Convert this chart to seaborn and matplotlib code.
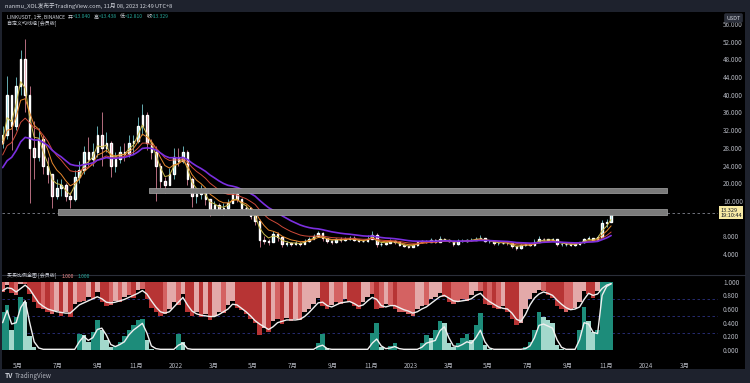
import numpy as np
import pandas as pd
import matplotlib
matplotlib.use("Agg")
import matplotlib.pyplot as plt
from matplotlib.patches import Rectangle
from matplotlib.ticker import FormatStrFormatter
import seaborn as sns

sns.set_theme(style="dark")
plt.rcParams["font.family"] = ["Noto Sans CJK SC", "DejaVu Sans"]

# ---- data (weekly) ----
start = "2021-04-07"
close = [31, 40, 33, 42, 48, 40, 28, 26, 30, 24,
         22, 17, 19, 19.5, 17, 16.5, 21.5, 23, 27, 25.5,
         27, 31, 28, 29, 24, 25.5, 27, 26.5, 29, 29.5,
         33, 35.5, 29, 27, 24, 20.5, 19.5, 22, 26, 25,
         27, 21, 17, 17.5, 18, 16.5, 14, 15, 14, 14.5,
         15.5, 17.5, 16.5, 14.5, 14.4, 12.5, 11.5, 7.2, 7.0, 6.8,
         8.5, 7.8, 6.2, 6.5, 6.2, 6.5, 6.2, 7.0, 7.5, 8.0,
         8.8, 7.6, 7.0, 6.8, 7.3, 7.1, 7.4, 7.6, 7.2, 6.9,
         6.9, 7.5, 8.4, 6.2, 6.2, 6.5, 7.0, 6.6, 6.1, 5.7,
         5.6, 6.0, 6.6, 6.9, 6.8, 7.2, 6.7, 7.4, 7.2, 7.0,
         6.3, 6.9, 7.0, 7.1, 7.2, 7.5, 7.6, 6.9, 6.9, 6.4,
         6.4, 6.5, 6.4, 5.7, 5.3, 6.0, 6.2, 6.0, 6.8, 7.4,
         7.3, 7.2, 7.3, 6.2, 6.2, 6.2, 6.0, 6.2, 6.6, 7.4,
         7.6, 7.1, 7.9, 11.0, 11.3, 13.329]
high = [33, 44.3, 40, 44, 50, 52.6, 42, 34, 32.5, 31,
        26, 22, 21, 21, 20, 18, 23, 25, 28.5, 30.5,
        29, 33, 36.2, 31.5, 29.5, 27, 28.5, 29, 31, 31,
        35, 38, 36, 30, 28.5, 24.5, 21.5, 23.5, 28, 28,
        28.3, 27.5, 21.5, 19, 19.5, 19, 16.5, 16, 15.5, 15.5,
        16.5, 18.3, 17.8, 16.7, 15, 14.6, 13, 11.8, 8, 7.4,
        9.1, 9.0, 8.0, 6.9, 6.8, 6.9, 6.6, 7.5, 7.8, 8.5,
        9.3, 8.9, 7.6, 7.2, 7.7, 7.9, 7.8, 8.0, 8.0, 7.4,
        7.2, 8.2, 9.2, 8.8, 6.6, 6.8, 7.3, 7.1, 6.8, 6.2,
        5.9, 6.3, 6.8, 7.2, 7.1, 7.6, 7.3, 8.0, 7.6, 7.3,
        7.0, 7.3, 7.5, 7.4, 7.6, 7.9, 8.4, 7.7, 7.2, 7.0,
        6.7, 6.8, 6.7, 6.5, 5.8, 6.2, 6.5, 6.3, 7.4, 8.0,
        7.7, 7.5, 7.6, 7.4, 6.4, 6.6, 6.3, 6.4, 6.8, 7.6,
        8.0, 7.7, 8.3, 11.6, 12.0, 13.438]
low = [28, 30, 27.5, 32, 40, 36, 15.5, 21, 25, 22,
       20, 14.5, 16.5, 17, 16, 14.4, 16, 20, 22, 24,
       24, 26, 24, 27, 21.4, 22.5, 24.5, 25, 26, 26.5,
       29, 31, 27.5, 25.5, 16, 19, 17.8, 19.5, 21, 24,
       24.5, 19.5, 14.6, 15.5, 16.5, 15, 12.5, 13.3, 13, 12.8,
       14, 15.5, 15.8, 13.5, 13.5, 11.8, 10.5, 5.6, 6.2, 6.0,
       6.6, 7.0, 5.5, 5.9, 5.8, 6.0, 5.9, 6.2, 6.8, 7.3,
       7.9, 7.0, 6.5, 6.2, 6.5, 6.8, 6.9, 7.2, 7.0, 6.6,
       6.6, 6.8, 7.4, 5.6, 5.8, 6.0, 6.4, 6.3, 5.8, 5.5,
       5.4, 5.5, 5.9, 6.4, 6.5, 6.7, 6.5, 6.6, 7.0, 6.8,
       5.9, 6.1, 6.6, 6.8, 7.0, 7.1, 7.3, 6.6, 6.5, 6.1,
       6.1, 6.2, 6.1, 5.3, 5.0, 5.2, 5.8, 5.8, 5.9, 6.7,
       7.0, 6.9, 7.0, 5.9, 5.9, 5.9, 5.9, 5.9, 6.1, 6.5,
       7.3, 6.9, 7.0, 7.8, 10.2, 11.2]
# weekly closes Dec 2020 - Mar 2021, only used to warm up the moving averages
warmup_close = [12.5, 12.0, 13.0, 11.5, 11.5, 14.5, 16.0, 20.5, 21.0, 25.0,
                30.0, 33.0, 27.0, 28.0, 30.0, 29.0, 26.0, 29.0]
ema_spans = [3, 6, 12, 20]

# support / resistance boxes
zone_low = [17.9, 12.77]
zone_high = [18.85, 14.17]
zone_start = ["2021-11-20", "2021-07-02"]
zone_end = ["2024-02-03", "2024-02-03"]
last_price = 13.329
price_ticks = [4, 8, 16, 20, 24, 28, 32, 36, 40, 44, 48, 52, 56]

# lower indicator: red edge (from 1.0 down), white lines, green bars (from 0 up)
sell_edge = [0.85, 0.95, 0.84, 0.80, 0.96, 0.97, 0.82, 0.70, 0.62, 0.60,
             0.55, 0.52, 0.57, 0.50, 0.55, 0.48, 0.68, 0.70, 0.72, 0.78,
             0.74, 0.85, 0.70, 0.64, 0.66, 0.72, 0.70, 0.78, 0.80, 0.76,
             0.88, 0.90, 0.74, 0.62, 0.55, 0.50, 0.52, 0.60, 0.70, 0.66,
             0.82, 0.56, 0.50, 0.55, 0.48, 0.52, 0.44, 0.50, 0.56, 0.54,
             0.66, 0.72, 0.62, 0.58, 0.52, 0.45, 0.40, 0.22, 0.32, 0.26,
             0.42, 0.45, 0.38, 0.47, 0.42, 0.46, 0.44, 0.55, 0.60, 0.68,
             0.76, 0.64, 0.60, 0.66, 0.70, 0.68, 0.74, 0.70, 0.64, 0.60,
             0.70, 0.78, 0.82, 0.60, 0.62, 0.68, 0.66, 0.60, 0.56, 0.55,
             0.52, 0.50, 0.60, 0.64, 0.66, 0.74, 0.78, 0.84, 0.78, 0.70,
             0.68, 0.72, 0.74, 0.72, 0.80, 0.86, 0.86, 0.68, 0.66, 0.62,
             0.60, 0.64, 0.55, 0.46, 0.36, 0.40, 0.60, 0.74, 0.84, 0.88,
             0.86, 0.80, 0.76, 0.64, 0.60, 0.56, 0.58, 0.62, 0.70, 0.86,
             0.82, 0.76, 0.86, 1.0, 1.0, 1.0]
sell_line = [0.87, 0.91, 0.90, 0.85, 0.90, 0.95, 0.89, 0.79, 0.69, 0.64,
             0.60, 0.58, 0.56, 0.55, 0.54, 0.54, 0.60, 0.66, 0.69, 0.72,
             0.75, 0.78, 0.75, 0.70, 0.69, 0.70, 0.72, 0.74, 0.77, 0.80,
             0.83, 0.87, 0.82, 0.72, 0.63, 0.56, 0.54, 0.56, 0.63, 0.70,
             0.77, 0.66, 0.57, 0.53, 0.51, 0.50, 0.49, 0.49, 0.52, 0.56,
             0.60, 0.67, 0.66, 0.61, 0.56, 0.50, 0.43, 0.38, 0.34, 0.30,
             0.34, 0.40, 0.42, 0.44, 0.44, 0.44, 0.45, 0.49, 0.55, 0.62,
             0.69, 0.70, 0.65, 0.63, 0.66, 0.69, 0.70, 0.71, 0.68, 0.64,
             0.66, 0.72, 0.77, 0.74, 0.65, 0.63, 0.65, 0.65, 0.62, 0.59,
             0.57, 0.54, 0.56, 0.60, 0.63, 0.68, 0.73, 0.78, 0.80, 0.76,
             0.72, 0.71, 0.72, 0.73, 0.75, 0.80, 0.83, 0.76, 0.71, 0.67,
             0.63, 0.61, 0.60, 0.54, 0.45, 0.42, 0.52, 0.66, 0.76, 0.82,
             0.85, 0.83, 0.80, 0.73, 0.67, 0.62, 0.59, 0.60, 0.63, 0.74,
             0.83, 0.80, 0.82, 0.90, 0.95, 0.97]
buy_bar = [0.55, 0.66, 0.30, 0.48, 0.78, 0.70, 0.20, 0.05, 0, 0,
           0, 0, 0, 0, 0, 0, 0, 0.24, 0.22, 0.12,
           0.26, 0.44, 0.30, 0.15, 0.04, 0.06, 0.12, 0.20, 0.30, 0.36,
           0.44, 0.46, 0.15, 0.02, 0, 0, 0, 0, 0, 0.24,
           0.12, 0, 0, 0, 0, 0, 0, 0, 0, 0,
           0, 0, 0, 0, 0, 0, 0, 0, 0, 0,
           0, 0, 0, 0, 0, 0, 0, 0, 0, 0,
           0.10, 0.24, 0.03, 0, 0, 0, 0, 0, 0, 0,
           0, 0, 0.25, 0.39, 0.05, 0, 0.06, 0.10, 0, 0,
           0, 0, 0, 0.10, 0.22, 0.18, 0.30, 0.42, 0.40, 0.10,
           0.04, 0.10, 0.18, 0.24, 0.14, 0.36, 0.54, 0.08, 0.02, 0,
           0, 0, 0, 0, 0, 0, 0.04, 0.12, 0.30, 0.56,
           0.48, 0.44, 0.40, 0.08, 0.02, 0, 0, 0, 0.30, 0.63,
           0.42, 0.26, 0.30, 1.0, 1.0, 1.0]
buy_line = [0.40, 0.58, 0.38, 0.40, 0.62, 0.72, 0.40, 0.12, 0.03, 0.01,
            0.01, 0.01, 0.01, 0.01, 0.01, 0.01, 0.01, 0.12, 0.20, 0.14,
            0.18, 0.30, 0.32, 0.22, 0.08, 0.05, 0.08, 0.12, 0.22, 0.29,
            0.34, 0.39, 0.25, 0.06, 0.02, 0.01, 0.01, 0.01, 0.01, 0.07,
            0.10, 0.02, 0.01, 0.01, 0.01, 0.01, 0.01, 0.01, 0.01, 0.01,
            0.01, 0.01, 0.01, 0.01, 0.01, 0.01, 0.01, 0.01, 0.01, 0.01,
            0.01, 0.01, 0.01, 0.01, 0.01, 0.01, 0.01, 0.01, 0.01, 0.01,
            0.05, 0.07, 0.02, 0.01, 0.01, 0.01, 0.01, 0.01, 0.01, 0.01,
            0.01, 0.01, 0.10, 0.16, 0.06, 0.02, 0.03, 0.05, 0.02, 0.01,
            0.01, 0.01, 0.01, 0.04, 0.10, 0.12, 0.14, 0.28, 0.34, 0.18,
            0.06, 0.05, 0.08, 0.12, 0.10, 0.18, 0.29, 0.12, 0.03, 0.01,
            0.01, 0.01, 0.01, 0.01, 0.01, 0.01, 0.02, 0.06, 0.18, 0.36,
            0.38, 0.35, 0.32, 0.15, 0.04, 0.01, 0.01, 0.01, 0.15, 0.40,
            0.38, 0.26, 0.24, 0.80, 0.93, 0.97]

tick_dates = ["2021-05-01", "2021-07-01", "2021-09-01", "2021-11-01", "2022-01-01",
              "2022-03-01", "2022-05-01", "2022-07-01", "2022-09-01", "2022-11-01",
              "2023-01-01", "2023-03-01", "2023-05-01", "2023-07-01", "2023-09-01",
              "2023-11-01", "2024-01-01", "2024-03-01"]
tick_labels = ["5月", "7月", "9月", "11月", "2022", "3月", "5月", "7月", "9月", "11月",
               "2023", "3月", "5月", "7月", "9月", "11月", "2024", "3月"]

# ---- prep ----
dates = pd.date_range(start, periods=len(close), freq="7D")
warm_dates = pd.date_range(end=dates[0] - pd.Timedelta(days=7), periods=len(warmup_close), freq="7D")
all_close = pd.Series(warmup_close + close, index=warm_dates.append(dates))
emas = [all_close.ewm(span=s, adjust=False).mean().loc[dates].values for s in ema_spans]
ema_colors = ["#cdbd4c", "#e8892e", "#cf4a3a", "#7b2fe0"]
ema_widths = [0.7, 0.7, 0.7, 1.2]

c = np.array(close)
o = np.array([warmup_close[-1]] + close[:-1])
up = c >= o
candle_colors = np.where(up, "#7fd8de", "#e58aa0")

W, H = 750, 383
BG = "#1e222d"
TXT = "#b2b5be"


def box(x0, y0, x1, y1):
    return [x0 / W, 1 - y1 / H, (x1 - x0) / W, (y1 - y0) / H]


fig = plt.figure(figsize=(7.5, 3.83), dpi=100, facecolor=BG)
fig.add_artist(Rectangle((2 / W, 1 - 369 / H), 743 / W, 357 / H, transform=fig.transFigure,
                         facecolor="black", edgecolor="none", zorder=0))

ax = fig.add_axes(box(2, 12, 718, 274), facecolor="black")
ax2 = fig.add_axes(box(2, 275, 718, 356), facecolor="black", sharex=ax)

# candles
ax.vlines(dates, low, high, colors=candle_colors, lw=0.55, zorder=2)
ax.bar(dates, np.abs(c - o), bottom=np.minimum(o, c), width=2.4, color=candle_colors, zorder=2)

for e, col, lw in zip(emas, ema_colors, ema_widths):
    sns.lineplot(x=dates, y=e, ax=ax, color=col, lw=lw, zorder=3)

ax.axhline(last_price, color="#80848f", lw=0.6, ls=(0, (3, 3)), zorder=1)
for lo, hi, s, e in zip(zone_low, zone_high, zone_start, zone_end):
    ax.fill_between(pd.to_datetime([s, e]), lo, hi, facecolor="#7a7a7a", edgecolor="#a8a8a8",
                    lw=0.5, zorder=4)

ax.set_ylim(-0.52, 58.7)
ax.set_xlim(pd.Timestamp("2021-04-06"), pd.Timestamp("2024-04-22"))
ax.yaxis.tick_right()
ax.set_yticks(price_ticks)
ax.yaxis.set_major_formatter(FormatStrFormatter("%.3f"))
ax.tick_params(axis="y", length=0, pad=3.6, labelsize=4.6, labelcolor=TXT)
ax.tick_params(axis="x", length=0, labelbottom=False)
ax.text(1.003, last_price, "13.329\n19:10:44", transform=ax.get_yaxis_transform(), ha="left",
        va="center", fontsize=4.0, color="#131722", linespacing=1.1,
        bbox=dict(boxstyle="square,pad=0.25", facecolor="#f7eaa4", edgecolor="none"))

# lower indicator
edge = np.array(sell_edge)
d_edge = np.diff(np.concatenate([[edge[0]], edge]))
red_cols = np.where(d_edge < -0.04, "#b73434", np.where(d_edge > 0.04, "#e3a9a9", "#d46262"))
ax2.bar(dates, 1 - edge, bottom=edge, width=7, color=red_cols, lw=0, zorder=2)
bb = np.array(buy_bar)
d_bb = np.diff(np.concatenate([[bb[0]], bb]))
green_cols = np.where(d_bb >= 0, "#1d8c7a", "#a3d8cc")
ax2.bar(dates, bb, width=7, color=green_cols, lw=0, zorder=3)
sns.lineplot(x=dates, y=sell_line, ax=ax2, color="#f0f0f0", lw=1.0, zorder=4)
sns.lineplot(x=dates, y=buy_line, ax=ax2, color="#f0f0f0", lw=1.0, zorder=4)
for lev in [0.75, 0.5, 0.25]:
    ax2.axhline(lev, color="#2c3280", lw=0.6, ls=(0, (3, 3)), zorder=1)

ax2.set_ylim(-0.088, 1.098)
ax2.yaxis.tick_right()
ax2.set_yticks([0, 0.2, 0.4, 0.6, 0.8, 1.0])
ax2.yaxis.set_major_formatter(FormatStrFormatter("%.3f"))
ax2.tick_params(axis="y", length=0, pad=3.6, labelsize=4.6, labelcolor=TXT)
ax2.set_xticks(pd.to_datetime(tick_dates))
ax2.set_xticklabels(tick_labels)
ax2.tick_params(axis="x", length=0, pad=4, labelsize=4.6, labelcolor=TXT)

for a in (ax, ax2):
    a.grid(False)
    a.set_xlabel("")
    a.set_ylabel("")
    for sp in a.spines.values():
        sp.set_visible(False)

fig.add_artist(plt.Line2D([2 / W, 745 / W], [1 - 274.5 / H] * 2, transform=fig.transFigure,
                          color="#2a2e39", lw=0.8))

# texts, chained left to right
renderer = fig.canvas.get_renderer()


def chain(x, y, parts, size):
    for s, col, gap in parts:
        t = fig.text(x / W, 1 - y / H, s, fontsize=size, color=col, va="center")
        x = t.get_window_extent(renderer).x1 + gap


LIGHT = "#d1d4dc"
TEAL = "#26a69a"
fig.text(5 / W, 1 - 6 / H, "nanmu_XOL发布于TradingView.com, 11月 08, 2023 12:49 UTC+8",
         fontsize=4.1, color=LIGHT, va="center")
chain(7, 17, [("LINKUSDT, 1天, BINANCE", LIGHT, 3),
              ("开", LIGHT, 0), ("=13.040", TEAL, 3),
              ("高", LIGHT, 0), ("=13.438", TEAL, 3),
              ("低", LIGHT, 0), ("=12.810", TEAL, 3),
              ("收", LIGHT, 0), ("=13.329", TEAL, 3)], 3.6)
fig.text(7 / W, 1 - 24 / H, "自定义均线组 [会员版]", fontsize=3.6, color=LIGHT, va="center")
chain(7, 276, [("买卖比例全图 [会员版]", LIGHT, 5), ("1.000", "#f08c8c", 4), ("1.000", TEAL, 0)], 3.6)
fig.text(733.5 / W, 1 - 18 / H, "USDT", fontsize=4.0, color=LIGHT, ha="center", va="center",
         bbox=dict(boxstyle="round,pad=0.4,rounding_size=0.3", facecolor="#2a2e39", edgecolor="none"))
fig.text(5 / W, 1 - 375.5 / H, "TV", fontsize=4.8, color=LIGHT, va="center", weight="bold")
fig.text(15 / W, 1 - 375.5 / H, "TradingView", fontsize=4.5, color=TXT, va="center")

fig.savefig("out.png", dpi=100, facecolor=BG)
